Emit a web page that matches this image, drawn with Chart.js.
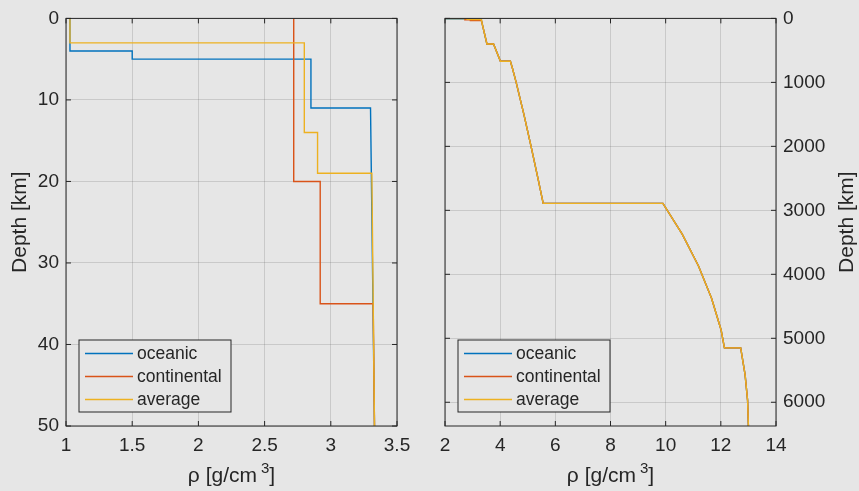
<!DOCTYPE html>
<html>
<head>
<meta charset="utf-8">
<title>Density profiles</title>
<script src="https://cdn.jsdelivr.net/npm/chart.js@4.4.1/dist/chart.umd.min.js"></script>
<style>
  html, body { margin: 0; padding: 0; background: #e6e6e6; }
  #wrap { position: relative; width: 859px; height: 491px; overflow: hidden; }
  canvas { position: absolute; top: 0; }
</style>
</head>
<body>
<div id="wrap">
  <canvas id="crustChart" width="430" height="491" style="left:0"></canvas>
  <canvas id="earthChart" width="429" height="491" style="left:430px"></canvas>
</div>
<script>
// ---------- data (depth in km, density in g/cm3) ----------
const seriesNames = ["oceanic", "continental", "average"];

// crust
const oceanicDepth = [0, 4, 4, 5, 5, 11, 11];
const oceanicRho = [1.03, 1.03, 1.5, 1.5, 2.85, 2.85, 3.30];
const continentalDepth = [0, 20, 20, 35, 35];
const continentalRho = [2.72, 2.72, 2.92, 2.92, 3.32];
const averageDepth = [0, 3, 3, 14, 14, 19, 19];
const averageRho = [1.03, 1.03, 2.80, 2.80, 2.90, 2.90, 3.31];

// mantle + core, shared by all three models
const deepDepth = [50, 400, 400, 670, 670, 771, 1000, 1500, 2000, 2500, 2891, 2891, 3371, 3871, 4371, 4871, 5150, 5150, 5571, 5971, 6371];
const deepRho = [3.33, 3.52, 3.76, 4.01, 4.37, 4.44, 4.58, 4.86, 5.12, 5.37, 5.56, 9.90, 10.60, 11.19, 11.66, 12.01, 12.13, 12.72, 12.88, 12.97, 13.00];

// tick labels
const crustRhoTicks = [1, 1.5, 2, 2.5, 3, 3.5];
const crustDepthTicks = [0, 10, 20, 30, 40, 50];
const earthRhoTicks = [2, 4, 6, 8, 10, 12, 14];
const earthDepthTicks = [0, 1000, 2000, 3000, 4000, 5000, 6000];

// ---------- style ----------
const colors = ["#0072BD", "#D95319", "#EDB120"];
const INK = "#262626";
const FONT = "'Liberation Sans', Arial, sans-serif";

const toPoints = (depth, rho) => depth.map((d, i) => ({ x: rho[i], y: d }));
const profiles = [
  toPoints(oceanicDepth.concat(deepDepth), oceanicRho.concat(deepRho)),
  toPoints(continentalDepth.concat(deepDepth), continentalRho.concat(deepRho)),
  toPoints(averageDepth.concat(deepDepth), averageRho.concat(deepRho))
];

const makeDatasets = () => profiles.map((pts, i) => ({
  label: seriesNames[i],
  data: pts,
  showLine: true,
  borderColor: colors[i],
  borderWidth: 1.4,
  pointRadius: 0,
  tension: 0,
  order: 2 - i   // last series drawn on top, like MATLAB
}));

function drawRhoTitle(ctx, cx, cy) {
  const big = "21px " + FONT, small = "15px " + FONT;
  const main = "\u03C1 [g/cm", sup = "3", end = "]";
  ctx.font = big;
  const w1 = ctx.measureText(main).width;
  const w3 = ctx.measureText(end).width;
  ctx.font = small;
  const w2 = ctx.measureText(sup).width;
  const gap = 4;
  let x = cx - (w1 + gap + w2 + w3) / 2;
  ctx.textAlign = "left";
  ctx.textBaseline = "alphabetic";
  ctx.font = big;
  ctx.fillText(main, x, cy + 7);
  x += w1 + gap;
  ctx.font = small;
  ctx.fillText(sup, x, cy - 2);
  x += w2;
  ctx.font = big;
  ctx.fillText(end, x, cy + 7);
}

// box, inner ticks on all sides, titles and legend
const matlabAxes = {
  id: "matlabAxes",
  afterDraw(chart, args, opts) {
    const ctx = chart.ctx;
    const a = chart.chartArea;
    const xs = chart.scales.x, ys = chart.scales.y;
    const tl = 5;
    ctx.save();
    ctx.strokeStyle = INK;
    ctx.lineWidth = 1;
    ctx.beginPath();
    xs.ticks.forEach(t => {
      const px = xs.getPixelForValue(t.value);
      ctx.moveTo(px, a.bottom); ctx.lineTo(px, a.bottom - tl);
      ctx.moveTo(px, a.top); ctx.lineTo(px, a.top + tl);
    });
    ys.ticks.forEach(t => {
      const py = ys.getPixelForValue(t.value);
      ctx.moveTo(a.left, py); ctx.lineTo(a.left + tl, py);
      ctx.moveTo(a.right, py); ctx.lineTo(a.right - tl, py);
    });
    ctx.stroke();
    ctx.strokeRect(a.left, a.top, a.right - a.left, a.bottom - a.top);

    // legend
    const lx = a.left + 13, ly = a.bottom - 86, lw = 152, lh = 72;
    ctx.fillStyle = "#e6e6e6";
    ctx.fillRect(lx, ly, lw, lh);
    ctx.strokeStyle = INK;
    ctx.strokeRect(lx, ly, lw, lh);
    ctx.font = "17.5px " + FONT;
    ctx.textBaseline = "middle";
    ctx.textAlign = "left";
    seriesNames.forEach((name, i) => {
      const y = ly + 13.5 + i * 23;
      ctx.strokeStyle = colors[i];
      ctx.lineWidth = 1.6;
      ctx.beginPath();
      ctx.moveTo(lx + 6, y); ctx.lineTo(lx + 54, y);
      ctx.stroke();
      ctx.fillStyle = INK;
      ctx.fillText(name, lx + 58, y + 1);
    });

    // axis titles
    ctx.fillStyle = INK;
    drawRhoTitle(ctx, (a.left + a.right) / 2, 475);
    ctx.save();
    ctx.translate(opts.yTitleX, (a.top + a.bottom) / 2);
    ctx.rotate(-Math.PI / 2);
    ctx.font = "21px " + FONT;
    ctx.textAlign = "center";
    ctx.textBaseline = "middle";
    ctx.fillText("Depth [km]", 0, 0);
    ctx.restore();
    ctx.restore();
  }
};

function makeChart(id, cfg) {
  const tickFont = { family: FONT, size: 19 };
  const grid = { color: "rgba(38,38,38,0.15)", drawTicks: false, lineWidth: 1 };
  return new Chart(document.getElementById(id), {
    type: "scatter",
    data: { datasets: makeDatasets() },
    options: {
      responsive: false,
      animation: false,
      events: [],
      layout: { padding: cfg.padding },
      plugins: {
        legend: { display: false },
        tooltip: { enabled: false },
        matlabAxes: { yTitleX: cfg.yTitleX }
      },
      scales: {
        x: {
          type: "linear",
          min: cfg.xTicks[0],
          max: cfg.xTicks[cfg.xTicks.length - 1],
          grid: grid,
          border: { display: false },
          afterBuildTicks: s => { s.ticks = cfg.xTicks.map(v => ({ value: v })); },
          afterFit: s => { s.height = 65; },
          ticks: { font: tickFont, color: INK, padding: 8, maxRotation: 0, autoSkip: false,
                   callback: v => String(v) }
        },
        y: {
          type: "linear",
          position: cfg.yPos,
          reverse: true,
          min: 0,
          max: cfg.yMax,
          grid: grid,
          border: { display: false },
          afterBuildTicks: s => { s.ticks = cfg.yTicks.map(v => ({ value: v })); },
          afterFit: s => { s.width = cfg.yWidth; },
          ticks: { font: tickFont, color: INK, padding: 7, autoSkip: false,
                   callback: v => String(v) }
        }
      }
    },
    plugins: [matlabAxes]
  });
}

makeChart("crustChart", {
  padding: { top: 12, right: 33, left: 0, bottom: 0 },
  xTicks: crustRhoTicks, yTicks: crustDepthTicks, yMax: 50,
  yPos: "left", yWidth: 66, yTitleX: 20
});

makeChart("earthChart", {
  padding: { top: 12, right: 0, left: 15, bottom: 0 },
  xTicks: earthRhoTicks, yTicks: earthDepthTicks, yMax: 6371,
  yPos: "right", yWidth: 83, yTitleX: 417
});
</script>
</body>
</html>
